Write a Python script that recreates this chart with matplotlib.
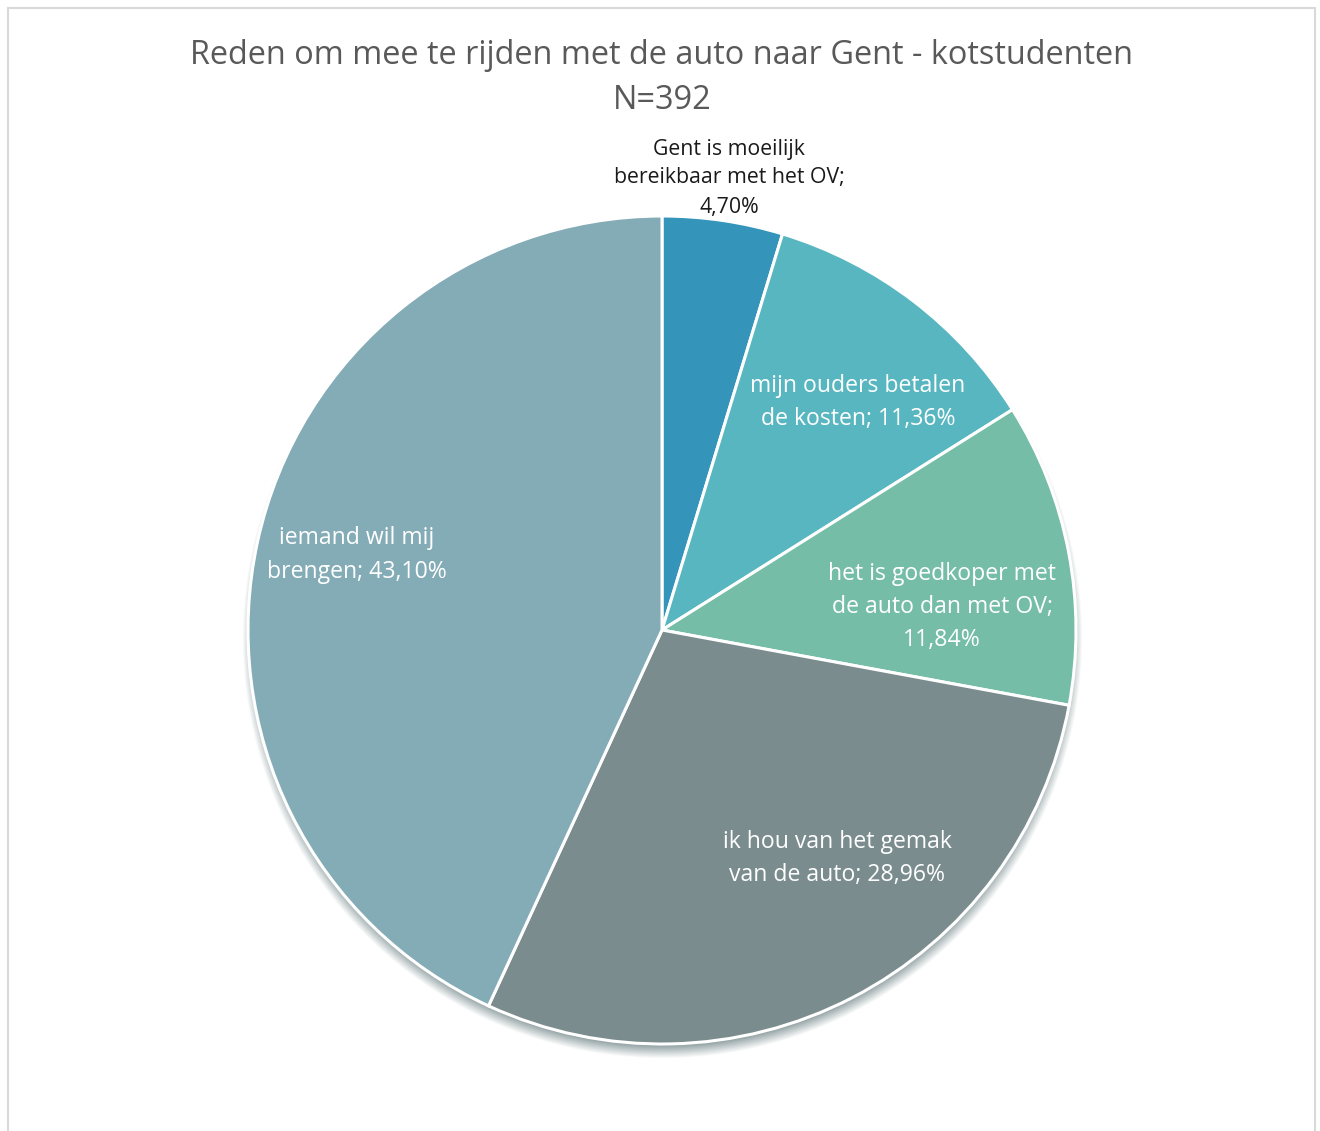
import numpy as np
import matplotlib
matplotlib.use("Agg")
import matplotlib.pyplot as plt
from matplotlib.patches import Rectangle

categories = ["Gent is moeilijk\nbereikbaar met het OV;\n4,70%",
              "mijn ouders betalen\nde kosten; 11,36%",
              "het is goedkoper met\nde auto dan met OV;\n11,84%",
              "ik hou van het gemak\nvan de auto; 28,96%",
              "iemand wil mij\nbrengen; 43,10%"]
values = [4.70, 11.36, 11.84, 28.96, 43.10]
colors = ["#3494BA", "#58B6C0", "#75BDA7", "#7A8C8E", "#84ACB6"]
title = "Reden om mee te rijden met de auto naar Gent - kotstudenten\nN=392"

W, H = 1320, 1131
plt.rcParams['font.family'] = ['Open Sans', 'DejaVu Sans']
fig = plt.figure(figsize=(W / 100, H / 100), dpi=100)
ax = fig.add_axes([0, 0, 1, 1])
ax.set_xlim(0, W)
ax.set_ylim(0, H)
ax.axis('off')

# border
ax.add_patch(Rectangle((7.5, -10), W - 12.5, H - 7.5 + 10, fill=False,
                       edgecolor="#D9D9D9", linewidth=1.5))

cx, cy, r = 662, H - 630, 414

# soft shadow
yy, xx = np.mgrid[0:H, 0:W]
sy = cy - 9
d = np.sqrt((xx - cx) ** 2 + (yy - sy) ** 2)
alpha = np.clip((r + 6 - d) / 14.0, 0, 1) * 0.7
img = np.zeros((H, W, 4))
img[..., 0] = 0.36
img[..., 1] = 0.45
img[..., 2] = 0.46
img[..., 3] = alpha
ax.imshow(img, extent=(0, W, 0, H), origin='lower', zorder=0, interpolation='bilinear')

wedges, _ = ax.pie(values, colors=colors, startangle=90, counterclock=False,
                   center=(cx, cy), radius=r, frame=True,
                   wedgeprops=dict(edgecolor="white", linewidth=2.2))
ax.set_xlim(0, W)
ax.set_ylim(0, H)
ax.set_aspect('auto')
ax.axis('off')

label_pos = [(729, 178), (858, 403), (942, 607), (837, 858), (357, 555)]
label_col = ["#1a1a1a", "white", "white", "white", "white"]
label_size = [15.3, 16.6, 16.6, 16.6, 16.6]
for txt, (x, y), c, s in zip(categories, label_pos, label_col, label_size):
    ax.text(x, H - y, txt, ha='center', va='center', color=c,
            fontsize=s, linespacing=1.5)

ax.text(662, H - 78, title, ha='center', va='center', color="#595959",
        fontsize=23.4, linespacing=1.5)

fig.savefig("out.png", dpi=100)
